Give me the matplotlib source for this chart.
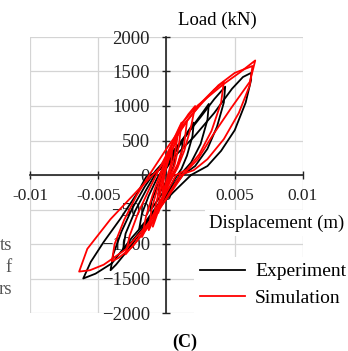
import matplotlib
matplotlib.use("Agg")
import matplotlib.pyplot as plt
import numpy as np

plt.rcParams['font.family'] = ['Liberation Serif', 'DejaVu Serif']

# hysteresis loops, displacement in mm, load in kN
exp_loops = [
    [(0.25, 0), (-0.1, -120), (-0.45, -240), (-0.6, -280), (-0.5, -150), (-0.3, -20),
     (0.0, 100), (0.35, 200), (0.6, 260), (0.55, 140), (0.25, 0)],
    [(0.5, 0), (0.0, -180), (-0.6, -350), (-1.2, -520), (-1.1, -380), (-0.7, -180),
     (-0.3, 20), (0.3, 220), (0.8, 380), (1.2, 500), (1.1, 330), (0.8, 120), (0.5, 0)],
    [(0.8, 0), (0.1, -220), (-0.7, -450), (-1.4, -640), (-2.0, -780), (-1.8, -560),
     (-1.3, -300), (-0.7, -50), (0.0, 160), (0.7, 380), (1.4, 580), (2.0, 760),
     (1.9, 560), (1.5, 280), (1.1, 90), (0.8, 0)],
    [(1.0, 0), (0.2, -220), (-0.8, -500), (-1.8, -780), (-2.6, -980), (-3.2, -1100),
     (-3.0, -850), (-2.3, -520), (-1.5, -220), (-0.8, 20), (0.0, 200), (1.0, 450),
     (2.0, 730), (2.7, 920), (3.1, 1030), (3.0, 800), (2.5, 450), (1.8, 180), (1.0, 0)],
    [(1.2, 0), (0.3, -230), (-0.8, -520), (-2.0, -860), (-3.0, -1130), (-3.7, -1300),
     (-4.1, -1380), (-3.9, -1150), (-3.3, -820), (-2.5, -480), (-1.6, -170), (-0.8, 60),
     (0.2, 280), (1.3, 540), (2.5, 840), (3.5, 1100), (4.3, 1280), (4.2, 1050),
     (3.7, 700), (3.0, 380), (2.1, 130), (1.2, 0)],
    [(1.8, 0), (0.5, -250), (-1.0, -560), (-2.5, -900), (-4.0, -1280), (-5.2, -1430),
     (-6.1, -1500), (-5.55, -1260), (-4.6, -970), (-3.4, -640), (-2.1, -250),
     (-1.5, -30), (-0.7, 45), (0.5, 250), (2.0, 550), (3.5, 900), (4.8, 1250),
     (5.6, 1420), (6.2, 1480), (6.2, 1380), (5.8, 1050), (5.0, 650), (4.0, 350),
     (3.0, 130), (1.8, 0)],
]

sim_loops = [
    [(0.1, 0), (-0.1, -150), (-0.3, -300), (-0.25, -150), (-0.1, 50), (0.1, 200),
     (0.4, 350), (0.35, 180), (0.1, 0)],
    [(0.2, 0), (-0.2, -250), (-0.6, -550), (-0.5, -300), (-0.2, 0), (0.2, 250),
     (0.8, 550), (0.6, 280), (0.2, 0)],
    [(0.3, 0), (-0.3, -350), (-1.0, -750), (-0.8, -450), (-0.4, -100), (0.1, 250),
     (0.6, 550), (1.1, 760), (0.9, 420), (0.6, 150), (0.3, 0)],
    [(0.4, 0), (-0.3, -380), (-1.3, -800), (-1.1, -500), (-0.6, -150), (0.0, 250),
     (0.8, 600), (1.5, 780), (1.3, 450), (0.8, 150), (0.4, 0)],
    [(0.5, 0), (-0.3, -320), (-1.1, -620), (-1.8, -900), (-1.5, -600), (-1.0, -280),
     (-0.4, 50), (0.3, 400), (1.0, 700), (1.6, 880), (2.1, 1000), (1.8, 700),
     (1.3, 350), (0.8, 100), (0.5, 0)],
    [(0.7, 0), (-0.2, -330), (-1.2, -680), (-2.2, -960), (-3.0, -1150), (-2.7, -880),
     (-2.1, -560), (-1.3, -220), (-0.5, 100), (0.4, 450), (1.5, 780), (2.6, 1060),
     (3.5, 1240), (4.2, 1350), (4.0, 1050), (3.3, 640), (2.4, 300), (1.5, 80), (0.7, 0)],
    [(1.0, 0), (0.0, -330), (-1.2, -720), (-2.5, -1040), (-3.5, -1200), (-4.0, -1250),
     (-3.8, -1000), (-3.1, -650), (-2.2, -300), (-1.2, 20), (0.0, 380), (1.2, 720),
     (2.5, 1020), (3.8, 1300), (5.0, 1480), (6.3, 1580), (6.1, 1300), (5.3, 900),
     (4.2, 520), (3.0, 230), (2.0, 70), (1.0, 0)],
    [(1.2, 0), (0.0, -350), (-1.5, -740), (-3.0, -1080), (-4.6, -1300), (-5.6, -1380),
     (-6.4, -1400), (-5.8, -1070), (-4.1, -640), (-2.0, -200), (-0.5, 100), (0.5, 400),
     (1.2, 770), (2.3, 1010), (4.2, 1320), (5.4, 1490), (6.5, 1660), (6.3, 1500),
     (6.1, 1350), (4.7, 960), (3.4, 580), (2.3, 230), (1.2, 0)],
]

x_ticks = [-0.01, -0.005, 0, 0.005, 0.01]
x_labels = ['-0.01', '-0.005', '0', '0.005', '0.01']
y_ticks = [-2000, -1500, -1000, -500, 0, 500, 1000, 1500, 2000]

fig = plt.figure(figsize=(3.48, 3.51), dpi=100)
ax = fig.add_axes([30 / 348, 1 - 313 / 351, 273 / 348, 276 / 351])

for i, loop in enumerate(exp_loops):
    pts = np.array(loop)
    ax.plot(pts[:, 0] / 1000, pts[:, 1], color='black', lw=1.3, zorder=3,
            label='Experiment' if i == 0 else None)
for i, loop in enumerate(sim_loops):
    pts = np.array(loop)
    ax.plot(pts[:, 0] / 1000, pts[:, 1], color='#ff0000', lw=1.3, zorder=4,
            label='Simulation' if i == 0 else None)

ax.set_xlim(-0.01, 0.01)
ax.set_ylim(-2000, 2000)
ax.set_xticks(x_ticks)
ax.set_xticklabels(x_labels)
ax.set_yticks(y_ticks)
ax.set_axisbelow(True)
ax.grid(True, color='#d4d4d4', lw=0.9)

ax.spines['left'].set_position(('data', 0))
ax.spines['bottom'].set_position(('data', 0))
ax.spines['top'].set_visible(False)
ax.spines['right'].set_visible(False)
for s in ['left', 'bottom']:
    ax.spines[s].set_color('#222222')
    ax.spines[s].set_linewidth(1.2)
ax.tick_params(axis='both', direction='inout', length=6, width=1.0,
               colors='#222222')
ax.tick_params(axis='x', pad=6, labelsize=12.5)
ax.tick_params(axis='y', pad=9, labelsize=13.5)

fig.text(217 / 348, 1 - 20 / 351, 'Load (kN)', fontsize=13.5, ha='center', va='center')
fig.text(277 / 348, 1 - 223 / 351, 'Displacement (m)', fontsize=13.5, ha='center',
         va='center', bbox=dict(facecolor='white', edgecolor='none', pad=3))
fig.text(185 / 348, 1 - 342 / 351, '(C)', fontsize=13, fontweight='bold',
         ha='center', va='center')

# clipped text from the neighbouring panel
for txt, yy in [('ts', 245), ('f', 267), ('rs', 289)]:
    fig.text(12 / 348, 1 - yy / 351, txt, fontsize=13.5, ha='right', va='center',
             color='#555555')

leg = ax.legend(loc='upper left', bbox_to_anchor=(194 / 348, 1 - 257 / 351),
                bbox_transform=fig.transFigure, frameon=True, fontsize=14,
                handlelength=2.3, handletextpad=0.55, labelspacing=0.45,
                borderpad=0.3, borderaxespad=0, fancybox=False)
leg.get_frame().set_facecolor('white')
leg.get_frame().set_edgecolor('none')
leg.get_frame().set_alpha(1)

fig.savefig('out.png', dpi=100)
